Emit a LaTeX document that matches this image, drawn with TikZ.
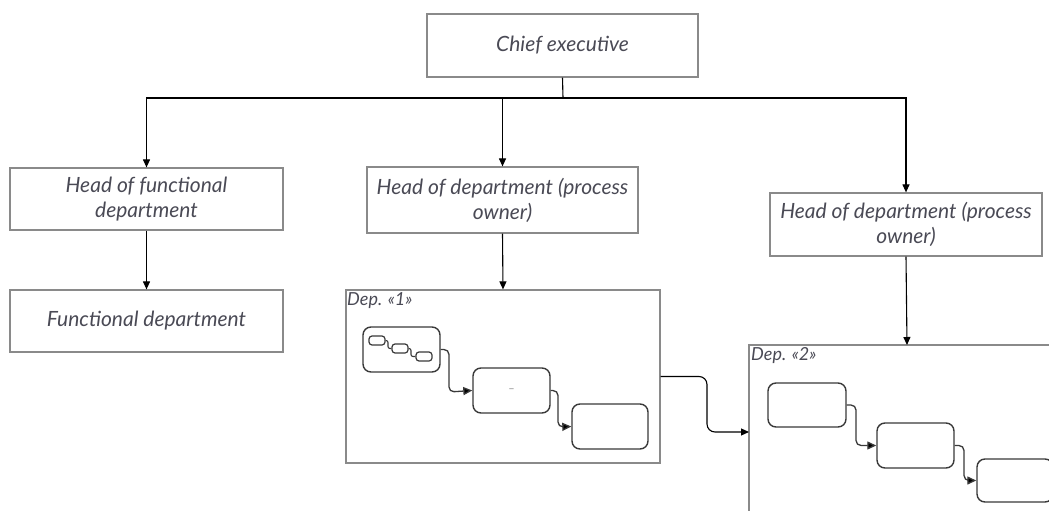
\documentclass[tikz,border=0pt]{standalone}
\usepackage{fontspec}
\setmainfont{Lato}
\usetikzlibrary{arrows.meta}
\definecolor{framegray}{HTML}{8A8A8A}
\definecolor{inkgray}{HTML}{3A3A3A}
\definecolor{textink}{HTML}{4A4A55}
\tikzset{
  x=1pt, y=-1pt,
  orgbox/.style={draw=framegray, line width=1.2pt, fill=white, inner sep=2pt,
    align=center, text=textink, font=\fontsize{21}{25}\selectfont\itshape},
  depframe/.style={draw=framegray, line width=1.2pt, inner sep=0pt},
  stage/.style={draw=inkgray, line width=1.4pt, rounded corners=8pt, inner sep=0pt},
  minibox/.style={draw=inkgray, line width=1.2pt, rounded corners=3pt, inner sep=0pt,
    minimum width=16pt, minimum height=9pt},
  deplabel/.style={anchor=west, inner sep=0pt, text=textink,
    font=\fontsize{18}{20}\selectfont\itshape},
  link/.style={draw=black, line width=1.1pt, -{Triangle[length=8pt,width=7pt]}},
  flow/.style={draw=inkgray, line width=1.3pt, rounded corners=5pt,
    -{Triangle[length=9pt,width=8pt,fill=black]}},
}
\begin{document}
\begin{tikzpicture}
\clip (0,0) rectangle (1049,511);
\fill[white] (0,0) rectangle (1049,511);

% management boxes
\node[orgbox, minimum width=271pt, minimum height=63pt] (chief) at (562.5,45.5) {Chief executive};
\node[orgbox, minimum width=273pt, minimum height=62pt] (hfunc) at (146.5,199) {Head of functional\\department};
\node[orgbox, minimum width=273pt, minimum height=62pt] (func) at (146.5,321) {Functional department};
\node[orgbox, minimum width=271pt, minimum height=66pt] (hd1) at (502.5,200) {Head of department (process\\owner)};
\node[orgbox, minimum width=272pt, minimum height=63pt] (hd2) at (906,224.5) {Head of department (process\\owner)};

% department frames
\node[depframe, minimum width=314pt, minimum height=173pt] (dep1) at (503,376.5) {};
\node[depframe, minimum width=330pt, minimum height=200pt] (dep2) at (914,445) {};
\node[deplabel] (dep1lbl) at (347,301) {Dep. «1»};
\node[deplabel] (dep2lbl) at (751,356) {Dep. «2»};

% reporting lines
\coordinate (bus) at (563,98);
\draw[line width=1.1pt] (chief.south) -- (bus);
\draw[link] (bus) -| (hfunc.north);
\draw[link] (bus) -| (hd2.north);
\draw[link] (bus) -| (hd1.north);
\draw[link] (hfunc.south) -- (func.north);
\draw[link] (hd1.south) -- (dep1.north);
\coordinate (dep2top) at (907,345);
\draw[link] (hd2.south) -- (dep2top);

% hand-over between departments
\coordinate (dep2in) at (749,432);
\draw[link, rounded corners=8pt] (dep1.east) -- (707,376.5) -- (707,432) -- (dep2in);

% department 1 stages
\node[stage, minimum width=77pt, minimum height=45pt] (sub) at (401.5,349.5) {};
\node[minibox] (m1) at (377,340.5) {};
\node[minibox] (m2) at (400,348.5) {};
\node[minibox] (m3) at (424,356.5) {};
\draw[inkgray, line width=1.1pt, rounded corners=2pt] (m1.east) -- (388,340.5) -- (388,348.5) -- (m2.west);
\draw[inkgray, line width=1.1pt, rounded corners=2pt] (m2.east) -- (411,348.5) -- (411,356.5) -- (m3.west);
\node[stage, minimum width=77pt, minimum height=45pt] (s12) at (511.5,390.5) {};
\node[text=framegray, font=\fontsize{11}{11}\selectfont] (s12txt) at (s12) {--};
\node[stage, minimum width=76pt, minimum height=45pt] (s13) at (610,426.5) {};
\draw[flow] (sub.east) -- (449,349.5) -- (449,392) -- (s12.west);
\draw[flow] (s12.east) -- (558,390.5) -- (558,427) -- (s13.west);

% department 2 stages
\node[stage, minimum width=78pt, minimum height=44pt] (s21) at (807,405) {};
\node[stage, minimum width=77pt, minimum height=45pt] (s22) at (915.5,445.5) {};
\node[stage, minimum width=76pt, minimum height=43pt] (s23) at (1015,480.5) {};
\draw[flow] (s21.east) -- (856,405) -- (856,445.5) -- (s22.west);
\draw[flow] (s22.east) -- (964,445.5) -- (964,480.5) -- (s23.west);
\end{tikzpicture}
\end{document}
